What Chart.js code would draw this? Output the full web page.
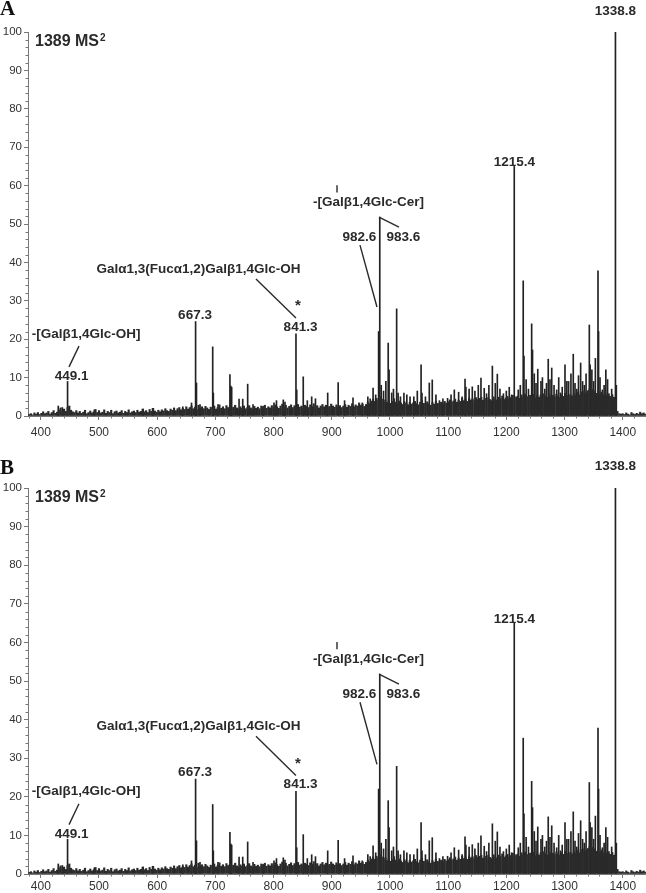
<!DOCTYPE html>
<html>
<head>
<meta charset="utf-8">
<script src="https://cdn.jsdelivr.net/npm/chart.js@4.4.1/dist/chart.umd.min.js"></script>
<style>
    html, body { margin: 0; padding: 0; background: #fff; }
    body { width: 646px; height: 893px; position: relative; overflow: hidden; }
    canvas { position: absolute; left: 0; }
    .tag { position: absolute; left: 0; z-index: 2; font: bold 21px "Liberation Serif", "Times New Roman", serif; color: #111; line-height: 24px; }
</style>
</head>
<body>
<canvas id="chartA" width="646" height="446" style="top:0"></canvas>
<canvas id="chartB" width="646" height="447" style="top:446px"></canvas>
<div class="tag" style="top:-4px">A</div>
<div class="tag" style="top:455px">B</div>

<script>
// axis tick labels
const mzTicks = [400, 500, 600, 700, 800, 900, 1000, 1100, 1200, 1300, 1400];
const intensityTicks = [0, 10, 20, 30, 40, 50, 60, 70, 80, 90, 100];

// resolved peaks, m/z position on the drawn axis and relative intensity (%)
const peakMz = [430, 437, 446, 492, 576, 592, 644, 659, 666, 667.5, 673.6, 695.4, 696.5, 704.5,
    725, 726.5, 728, 740.7, 747, 755.5, 764.7, 782, 800.7, 805, 816.7, 819.6, 838.5, 839.8, 851, 858,
    865.5, 872, 893, 911, 922, 936.5, 952.5, 962, 966, 971, 975.5, 980.5, 981.2, 982.5, 985, 989, 993,
    997, 998.5, 1003, 1006, 1011.5, 1014, 1018, 1024, 1029, 1034.5, 1041, 1047, 1053.5, 1055, 1061,
    1067.6, 1072.7, 1079, 1085, 1091, 1099, 1105, 1110.6, 1118, 1124, 1129, 1130.5, 1136,
    1141.5, 1146, 1151.8, 1156.4, 1162, 1166, 1170, 1176, 1181, 1184.5, 1189, 1195, 1200, 1205, 1209,
    1213.6, 1220.5, 1224, 1229, 1230.3, 1234, 1238, 1243.5, 1245, 1248, 1251,
    1254, 1259.5, 1262, 1266, 1269, 1272, 1275, 1278, 1282, 1286.5, 1290, 1293, 1296, 1300.8, 1304,
    1307, 1311, 1315, 1318, 1321, 1324, 1327.7, 1331, 1334, 1337, 1342.6,
    1344, 1347, 1350, 1353, 1357.5, 1358.5, 1361, 1365, 1368, 1371, 1374, 1378, 1381, 1387.5, 1389];
const peakIntensity = [2.6, 2.2, 9, 1.6, 1.8, 2, 2.4, 3.4, 24.6, 8.6, 3, 18, 6, 3,
    10.8, 7.8, 7.5, 4.4, 4.4, 8.3, 3, 2.5, 3.4, 4, 4.2, 3.6, 21.4, 6.8, 10.2, 4,
    5, 4.5, 6, 8.7, 4, 4.7, 3.4, 5, 4.5, 7.3, 5.5, 22, 14, 51.8, 8, 6.5, 9,
    19, 12, 6, 7, 27.9, 6, 5, 6, 5.5, 5, 5, 6.5, 13.3, 6, 5,
    8.6, 9.4, 5.5, 4, 4.5, 4.6, 5.5, 6.8, 6.2, 5, 9.6, 7.5, 7,
    7.6, 6.5, 8, 9.9, 7.2, 5.8, 8, 13, 8.5, 10.9, 7, 5.8, 6.5, 7.5, 5.5,
    65, 6.8, 8, 35.2, 15.6, 9.5, 7, 24, 17.2, 11, 8.5,
    12.2, 9, 10, 7, 8.5, 14.8, 9.5, 12.5, 8, 6.8, 10, 6, 7.5, 13.3, 9,
    9, 11, 16.1, 8.5, 7, 10.5, 13.8, 9, 8, 11, 23.7,
    13.3, 12, 9, 15, 37.8, 22, 10, 6.8, 8, 12, 9.5, 5, 7, 100, 8];

// chemical noise, read every 3 m/z from 380
const noiseStartMz = 380;
const noiseStepMz = 3;
const noiseIntensity = [
    0.4, 0.6, 0.3, 0.8, 0.5, 0.9, 0.4, 0.7, 1.1, 0.6, 0.8, 1.2, 0.5, 0.9, 1.4, 0.7, 1.0, 1.6, 2.1, 1.3,
    1.8, 1.2, 2.2, 2.6, 1.5, 1.1, 0.9, 1.4, 0.8, 1.2, 0.7, 1.0, 1.5, 0.6, 0.9, 1.3, 0.8, 1.1, 1.7, 0.9,
    1.4, 0.8, 1.0, 1.6, 0.7, 1.2, 0.9, 1.5, 0.6, 1.1, 1.3, 0.8, 1.0, 1.4, 0.7, 1.2, 0.9, 1.6, 0.8, 1.1,
    1.3, 0.9, 1.5, 1.0, 1.2, 1.8, 1.1, 1.4, 0.9, 1.7, 1.2, 2.0, 1.3, 1.0, 1.5, 1.1, 1.6, 1.3, 1.9, 1.4,
    1.2, 1.8, 1.5, 2.1, 1.4, 1.9, 2.2, 1.6, 2.0, 1.7, 2.4, 1.8, 2.2, 2.6, 1.9, 2.3, 1.7, 2.8, 2.0, 2.4,
    1.9, 2.5, 2.1, 1.7, 2.3, 2.0, 2.6, 1.8, 2.2, 2.9, 2.0, 2.4, 1.9, 2.7, 2.2, 2.5, 2.0, 2.3, 2.8, 2.1,
    1.8, 2.4, 2.0, 2.6, 1.9, 2.2, 2.7, 2.1, 1.8, 2.5, 2.0, 2.3, 1.9, 2.6, 2.2, 2.8, 2.0, 2.4, 2.1, 2.7,
    2.2, 2.9, 2.4, 2.0, 2.6, 3.1, 2.3, 2.8, 2.1, 2.5, 2.9, 2.2, 2.7, 2.4, 3.0, 2.3, 2.6, 2.1, 2.8, 2.5,
    2.2, 2.9, 2.5, 3.2, 2.3, 2.7, 2.1, 2.6, 3.0, 2.4, 2.8, 2.2, 2.5, 3.1, 2.6, 2.3, 2.9, 2.4, 2.7, 2.2,
    2.6, 3.0, 2.3, 2.8, 2.5, 3.2, 2.4, 2.9, 2.6, 3.4, 2.8, 3.1, 2.5, 3.0, 3.6, 3.2, 3.9, 4.4, 3.8, 4.6,
    4.1, 5.0, 4.4, 3.6, 4.2, 3.5, 4.0, 3.3, 3.8, 4.5, 3.6, 3.2, 3.9, 3.4, 3.0, 3.7, 3.3, 2.9, 3.5, 3.1,
    3.4, 3.8, 3.2, 2.9, 3.6, 4.1, 3.3, 3.0, 3.7, 3.2, 2.8, 3.5, 3.1, 3.9, 3.3, 3.0, 3.6, 3.2, 3.8, 3.4,
    3.7, 4.2, 3.5, 3.9, 4.4, 3.6, 4.1, 3.8, 4.6, 4.0, 4.3, 3.8, 4.7, 4.2, 4.5, 4.0, 4.8, 4.3, 4.6, 4.9,
    4.1, 4.6, 3.9, 4.8, 4.3, 4.0, 5.0, 4.4, 4.1, 4.9, 4.5, 5.2, 4.3, 4.7, 5.1, 4.4, 4.8, 5.4, 4.6, 5.0,
    5.2, 4.6, 5.5, 4.9, 5.7, 5.1, 4.8, 5.4, 5.0, 5.6, 4.7, 5.3, 4.9, 5.5, 5.1, 5.8, 5.2, 4.9, 5.6, 5.1,
    5.4, 5.0, 5.7, 5.2, 4.8, 5.5, 5.1, 5.9, 5.3, 5.0, 5.6, 5.2, 5.8, 5.4, 6.1, 5.5, 6.3, 5.7, 6.5, 6.0,
    6.6, 7.1, 6.3, 6.9, 6.5, 5.9, 6.4, 5.7, 6.2, 5.5, 6.0, 5.3, 5.8, 5.1, 5.6, 4.9, 4.3, 1.2, 0.6, 0.5,
    0.6, 0.4, 0.8, 0.5, 0.3, 0.9, 0.6, 0.4, 0.7, 0.5, 1.0, 0.6, 0.8, 0.5
];

// peak annotations, anchored in m/z and intensity units
const peakNotes = [
    { text: '1338.8', mz: 1387.5, rel: 105.5 },
    { text: '1215.4', mz: 1214, rel: 66.1 },
    { text: '-[Galβ1,4Glc-OH]', mz: 477.7, rel: 21.4 },
    { text: '449.1', mz: 452.8, rel: 10.4 },
    { text: '667.3', mz: 665, rel: 26.3 },
    { text: 'Galα1,3(Fucα1,2)Galβ1,4Glc-OH', mz: 671, rel: 38.3 },
    { text: '841.3', mz: 846.3, rel: 23.2 },
    { text: '-[Galβ1,4Glc-Cer]', mz: 963, rel: 55.7 },
    { text: '983.6', mz: 1023, rel: 46.6 },
    { text: '982.6', mz: 947.6, rel: 46.6 }
];
const starNote = { mz: 842, rel: 29.4 };
const leaderLines = [
    [465.6, 18.2, 448.5, 12.8],
    [769.8, 35.7, 838.5, 25.5],
    [981.2, 51.8, 1015.5, 49.2],
    [948.5, 44.5, 977.7, 28.4],
    [909, 60.1, 909, 58.2]
];

const FONT = '"Liberation Sans", Arial, sans-serif';
const INK = '#2a2a2a';

const minorTicks = {
    id: 'minorTicks',
    afterDraw(chart) {
        const { ctx, chartArea, scales: { x, y } } = chart;
        ctx.save();
        ctx.strokeStyle = '#777';
        ctx.lineWidth = 1;
        ctx.beginPath();
        for (let v = 0; v <= 100; v += 2) {
            if (v % 10 === 0) continue;
            const py = Math.round(y.getPixelForValue(v)) + 0.5;
            ctx.moveTo(chartArea.left - 2.5, py);
            ctx.lineTo(chartArea.left, py);
        }
        for (let v = 380; v <= 1440; v += 20) {
            if (v % 100 === 0) continue;
            const px = Math.round(x.getPixelForValue(v)) + 0.5;
            ctx.moveTo(px, chartArea.bottom);
            ctx.lineTo(px, chartArea.bottom + 2.5);
        }
        ctx.stroke();
        ctx.restore();
    }
};

const peakLabels = {
    id: 'peakLabels',
    afterDatasetsDraw(chart) {
        const { ctx, chartArea, scales: { x, y } } = chart;
        ctx.save();
        ctx.fillStyle = INK;
        ctx.strokeStyle = INK;
        ctx.font = 'bold 13.5px ' + FONT;
        ctx.textAlign = 'center';
        ctx.textBaseline = 'middle';
        peakNotes.forEach(n => ctx.fillText(n.text, x.getPixelForValue(n.mz), y.getPixelForValue(n.rel)));
        ctx.font = 'bold 15px ' + FONT;
        ctx.fillText('*', x.getPixelForValue(starNote.mz), y.getPixelForValue(starNote.rel) + 3);

        ctx.lineWidth = 1.4;
        leaderLines.forEach(([m1, r1, m2, r2]) => {
            ctx.beginPath();
            ctx.moveTo(x.getPixelForValue(m1), y.getPixelForValue(r1));
            ctx.lineTo(x.getPixelForValue(m2), y.getPixelForValue(r2));
            ctx.stroke();
        });

        // scan title
        ctx.textAlign = 'left';
        ctx.font = 'bold 16px ' + FONT;
        const tx = chartArea.left + 7, ty = chartArea.top + 9.5;
        ctx.fillText('1389 MS', tx, ty);
        const w = ctx.measureText('1389 MS').width;
        ctx.font = 'bold 10px ' + FONT;
        ctx.fillText('2', tx + w + 1, ty - 3);
        ctx.restore();
    }
};

function makeSpectrum(id, plotTop, plotBottom, labelPad) {
    const canvas = document.getElementById(id);
    return new Chart(canvas, {
        type: 'bar',
        data: {
            datasets: [
                {
                    data: noiseIntensity.map((v, i) => ({ x: noiseStartMz + i * noiseStepMz, y: v })),
                    backgroundColor: '#2a2a2a',
                    barThickness: 1.5,
                    grouped: false
                },
                {
                    data: peakMz.map((m, i) => ({ x: m, y: peakIntensity[i] })),
                    backgroundColor: '#222',
                    barThickness: 1,
                    grouped: false
                }
            ]
        },
        options: {
            responsive: false,
            animation: false,
            events: [],
            layout: { padding: { top: plotTop, left: 0, right: 0, bottom: 0 } },
            plugins: { legend: { display: false }, tooltip: { enabled: false } },
            scales: {
                x: {
                    type: 'linear',
                    offset: false,
                    min: 378,
                    max: 1440,
                    afterBuildTicks: s => { s.ticks = mzTicks.map(v => ({ value: v })); },
                    afterFit: s => { s.height = canvas.height - plotBottom; },
                    grid: { offset: false, drawOnChartArea: false, tickLength: 4, color: '#777' },
                    border: { color: '#777' },
                    ticks: {
                        padding: labelPad, color: '#333', font: { family: FONT, size: 12 },
                        maxRotation: 0, autoSkip: false, callback: v => String(v)
                    }
                },
                y: {
                    min: 0,
                    max: 100,
                    afterBuildTicks: s => { s.ticks = intensityTicks.map(v => ({ value: v })); },
                    afterFit: s => { s.width = 28; },
                    grid: { drawOnChartArea: false, tickLength: 4, color: '#777' },
                    border: { color: '#777' },
                    ticks: { padding: 2, color: '#333', font: { family: FONT, size: 11.5 }, callback: v => String(v) }
                }
            }
        },
        plugins: [minorTicks, peakLabels]
    });
}

makeSpectrum('chartA', 32, 416, 5);
makeSpectrum('chartB', 42, 428, 1);
</script>
</body>
</html>
